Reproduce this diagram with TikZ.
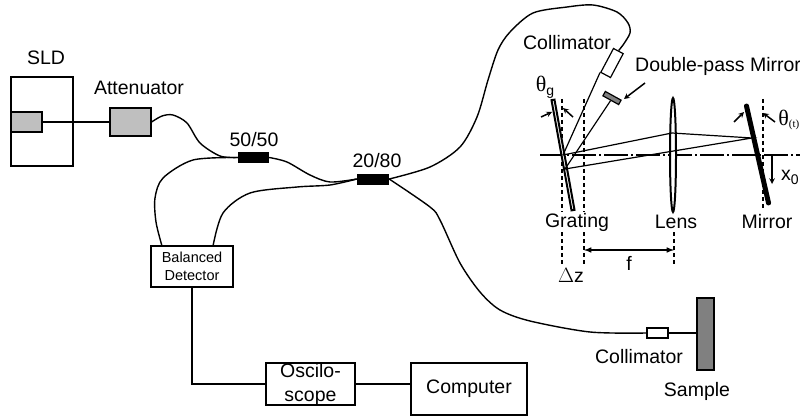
\documentclass[tikz,border=0pt]{standalone}
\usepackage{fontspec}
\setmainfont{Liberation Sans}
\newfontfamily\symbfont{Liberation Serif}
\usetikzlibrary{arrows,shapes.geometric}
\tikzset{
  lbl/.style={inner sep=0pt,font=\fontsize{19.5}{24}\selectfont},
  boxed/.style={draw,line width=1.2pt,inner sep=0pt,align=center,font=\fontsize{19.5}{24}\selectfont},
  graybox/.style={boxed,fill=black!25},
  coupler/.style={fill=black,inner sep=0pt,minimum width=31pt,minimum height=11pt},
  fiber/.style={line width=1.4pt},
  ray/.style={line width=1.2pt},
  guide/.style={line width=1.2pt,dash pattern=on 4pt off 3pt},
  pointer/.style={->,>=stealth,line width=1.5pt}
}
\begin{document}
\begin{tikzpicture}[x=1pt,y=-1pt]
    \useasboundingbox (0,0) rectangle (800,417);
    \node[boxed,minimum width=62pt,minimum height=89pt] (SLD) at (42,121.5) {};
    \node[graybox,minimum width=31pt,minimum height=20pt] (SRC) at (26.5,122) {};
    \node[graybox,minimum width=41pt,minimum height=28pt] (ATT) at (130.5,122) {};
    \node[coupler] (C50) at (253.5,157.5) {};
    \node[coupler,minimum width=32pt] (C20) at (373,179) {};
    \node[boxed,minimum width=82pt,minimum height=41pt,font=\fontsize{14.5}{18}\selectfont] (DET) at (192,266.5) {Balanced\\Detector};
    \node[boxed,minimum width=89pt,minimum height=42pt] (OSC) at (310.5,384) {Oscilo-\\scope};
    \node[boxed,minimum width=116pt,minimum height=52pt] (PC) at (469,389) {Computer};
    \node[draw,line width=1.2pt,fill=black!50,minimum width=17pt,minimum height=72pt,inner sep=0pt] (SMP) at (705.5,334) {};
    \node[draw,line width=1.2pt,fill=white,minimum width=21pt,minimum height=10pt,inner sep=0pt] (CS) at (657.5,333) {};
    \node[draw,line width=1.2pt,fill=white,minimum width=27pt,minimum height=11pt,inner sep=0pt,rotate=62] (CT) at (612,63) {};
    \node[draw,line width=1.2pt,fill=black!50,minimum width=18pt,minimum height=5pt,inner sep=0pt,rotate=-29] (DPM) at (612,98) {};

    \node[lbl] (tSLD) at (46,58) {SLD};
    \node[lbl] (tATT) at (139,88) {Attenuator};
    \node[lbl] (t50) at (254,140) {50/50};
    \node[lbl] (t20) at (377,161) {20/80};
    \node[lbl] (tCT) at (567,43) {Collimator};
    \node[lbl,anchor=west] (tDPM) at (635,66) {Double-pass Mirror};
    \node[lbl] (tCS) at (639,357) {Collimator};
    \node[lbl] (tSMP) at (697,391) {Sample};

    \coordinate (G0) at (563,155);
    \coordinate (G1) at (565,169);
    \coordinate (L0) at (672,133);
    \coordinate (M0) at (752,138);

    \draw[guide] (562,99) -- (562,266);
    \draw[guide] (584,99) -- (584,266);
    \draw[guide] (763,99) -- (763,210);
    \draw[guide] (674,232) -- (674,265);
    \draw[line width=1.3pt,dash pattern=on 24pt off 3pt on 2pt off 3pt] (540,155) -- (800,155);

    \node[draw,line width=2pt,fill=white,minimum width=3pt,minimum height=112pt,inner sep=0pt,rotate=10.3] (GRT) at (563,155) {};
    \node[draw,ellipse,line width=2pt,fill=white,minimum width=6pt,minimum height=114pt,inner sep=0pt] (LNS) at (673,155) {};
    \node[fill=black,rounded corners=2pt,minimum width=5pt,minimum height=104pt,inner sep=0pt,rotate=12.8] (MIR) at (757.5,154.5) {};

    \draw[ray] (CT.north west) -- (G0);
    \draw[ray] (DPM.south) -- (G1);
    \draw[ray] (G0) -- (L0) -- (M0) -- (G1);

    \node[lbl,fill=white,inner ysep=1pt] (tGRT) at (577,222) {Grating};
    \node[lbl] (tLNS) at (676,222) {Lens};
    \node[lbl] (tMIR) at (767,222) {Mirror};
    \node[lbl] (tDZ) at (571,275) {$\Delta$z};
    \node[lbl] (tF) at (629,263) {f};
    \node[lbl] (tX0) at (790,177) {x\raisebox{-4pt}{\fontsize{14}{14}\selectfont 0}};
    \node[lbl] (tTHG) at (545,87) {{\symbfont\fontsize{22}{22}\selectfont θ}\raisebox{-4pt}{\fontsize{14}{14}\selectfont g}};
    \node[lbl,anchor=east] (tTHT) at (799.5,120) {{\symbfont\fontsize{22}{22}\selectfont θ}\raisebox{-2pt}{\symbfont\fontsize{11}{11}\selectfont (t)}};

    \draw[fiber] (SRC.east) -- (ATT.west);
    \draw[fiber] plot[smooth] coordinates {(ATT.east) (162,116) (173,115) (187,123) (200,143) (220,156) (C50.west)};
    \draw[fiber] plot[smooth] coordinates {(C50.west) (193,160) (163,178) (155,198) (156,222) (162,246)};
    \draw[fiber] plot[smooth] coordinates {(C50.east) (287,162) (310,175) (330,182) (C20.west)};
    \draw[fiber] plot[smooth] coordinates {(C20.west) (330,185) (297,187) (250,193) (223,213) (213,246)};
    \draw[fiber] plot[smooth] coordinates {(C20.east) (430,167) (460,147) (477,117) (488,80) (498,50) (510,32) (533,13) (567,7) (593,5) (617,12) (628,23) (630,33) (623,45) (CT.east)};
    \draw[fiber] plot[smooth] coordinates {(C20.east) (430,207) (440,220) (460,263) (480,292) (500,310) (530,321) (590,332) (CS.west)};
    \draw[fiber] (CS.east) -- (CS.east -| SMP.west);
    \draw[fiber] (DET.south) |- (OSC.west);
    \draw[fiber] (OSC.east) -- (OSC.east -| PC.west);

    \path[pointer]
      (541,117) edge (552,112)
      (573,117) edge (563,108)
      (734,122) edge (744,112)
      (775,122) edge (763,113)
      (645,83) edge (624,99)
      (772,155) edge (772,184);
    \draw[<->,>=latex,line width=1.5pt] (584,250) -- (674,250);
\end{tikzpicture}
\end{document}
